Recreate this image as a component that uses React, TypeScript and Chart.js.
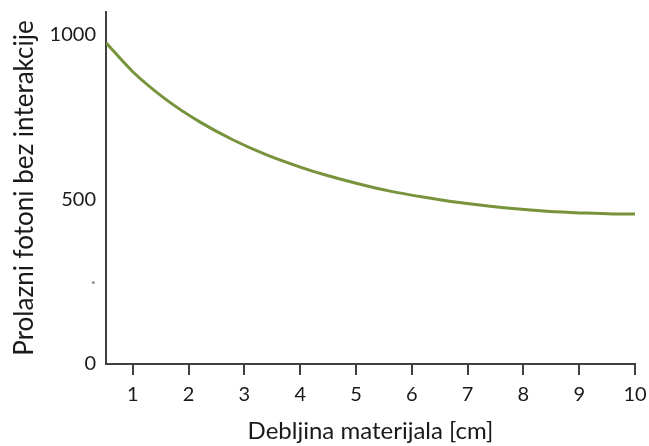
import React, { useEffect, useRef } from "react";
import { Chart, registerables } from "chart.js";

Chart.register(...registerables);

const thickness: number[] = [0.52, 1.0, 1.61, 2.2, 2.8, 3.41, 4.0, 4.41, 5.02, 5.61, 6.2, 6.81, 7.4, 7.81, 8.42, 9.01, 9.61, 10];
const photons: number[] = [974, 886, 800, 734, 679, 633, 597, 575, 547, 524, 506, 490, 478, 471, 463, 458, 455, 455];
const xTicks: number[] = [1, 2, 3, 4, 5, 6, 7, 8, 9, 10];
const yTicks: number[] = [0, 250, 500, 1000];
const xTitle = "Debljina materijala [cm]";
const yTitle = "Prolazni fotoni bez interakcije";

const FONT = "Lato, 'Open Sans', sans-serif";
const TEXT = "#1a1a1a";
const AXIS = "#404040";

export default function App() {
  const ref = useRef<HTMLCanvasElement | null>(null);
  useEffect(() => {
    if (!ref.current) return;
    const chart = new Chart(ref.current, {
      type: "line",
      data: {
        datasets: [
          {
            data: thickness.map((x, i) => ({ x, y: photons[i] })),
            borderColor: "#77933C",
            borderWidth: 3,
            pointRadius: 0,
            cubicInterpolationMode: "monotone",
            fill: false,
          },
        ],
      },
      options: {
        animation: false,
        responsive: false,
        maintainAspectRatio: false,
        layout: { padding: { top: 12, right: 14, bottom: 0, left: 0 } },
        plugins: { legend: { display: false }, tooltip: { enabled: false } },
        scales: {
          x: {
            type: "linear",
            min: 0.52,
            max: 10,
            afterBuildTicks: (s: any) => {
              s.ticks = xTicks.map((v) => ({ value: v }));
            },
            afterFit: (s: any) => {
              s.height = 82;
              s.paddingLeft = 0;
              s.paddingRight = 0;
            },
            grid: {
              display: true,
              drawOnChartArea: false,
              drawTicks: true,
              tickLength: 11,
              color: AXIS,
              lineWidth: 2,
            },
            border: { display: true, color: AXIS, width: 2 },
            ticks: {
              padding: 8,
              color: TEXT,
              font: { family: FONT, size: 20 },
              maxRotation: 0,
              callback: (v: any) => String(v),
            },
            title: {
              display: true,
              text: xTitle,
              color: TEXT,
              font: { family: FONT, size: 24 },
              padding: { top: 0, bottom: 0 },
            },
          },
          y: {
            type: "linear",
            min: 0,
            max: 1067,
            afterBuildTicks: (s: any) => {
              s.ticks = yTicks.map((v) => ({ value: v }));
            },
            afterFit: (s: any) => {
              s.width = 106;
              s.paddingTop = 0;
              s.paddingBottom = 0;
            },
            grid: { display: false, drawTicks: false },
            border: { display: true, color: AXIS, width: 2 },
            ticks: {
              padding: 10,
              color: (ctx: any) => (ctx.tick && ctx.tick.value === 250 ? "#999999" : TEXT),
              font: { family: FONT, size: 20 },
              callback: (v: any) => (v === 250 ? "·" : String(v)),
            },
            title: {
              display: true,
              text: yTitle,
              color: TEXT,
              font: { family: FONT, size: 26 },
              padding: { top: 9, bottom: 0 },
            },
          },
        },
      },
    });
    return () => chart.destroy();
  }, []);
  return (
    <div style={{ position: "fixed", left: 0, top: 0, width: 649, height: 446, background: "#fff" }}>
      <canvas ref={ref} width={649} height={446} style={{ display: "block", width: 649, height: 446 }} />
    </div>
  );
}
